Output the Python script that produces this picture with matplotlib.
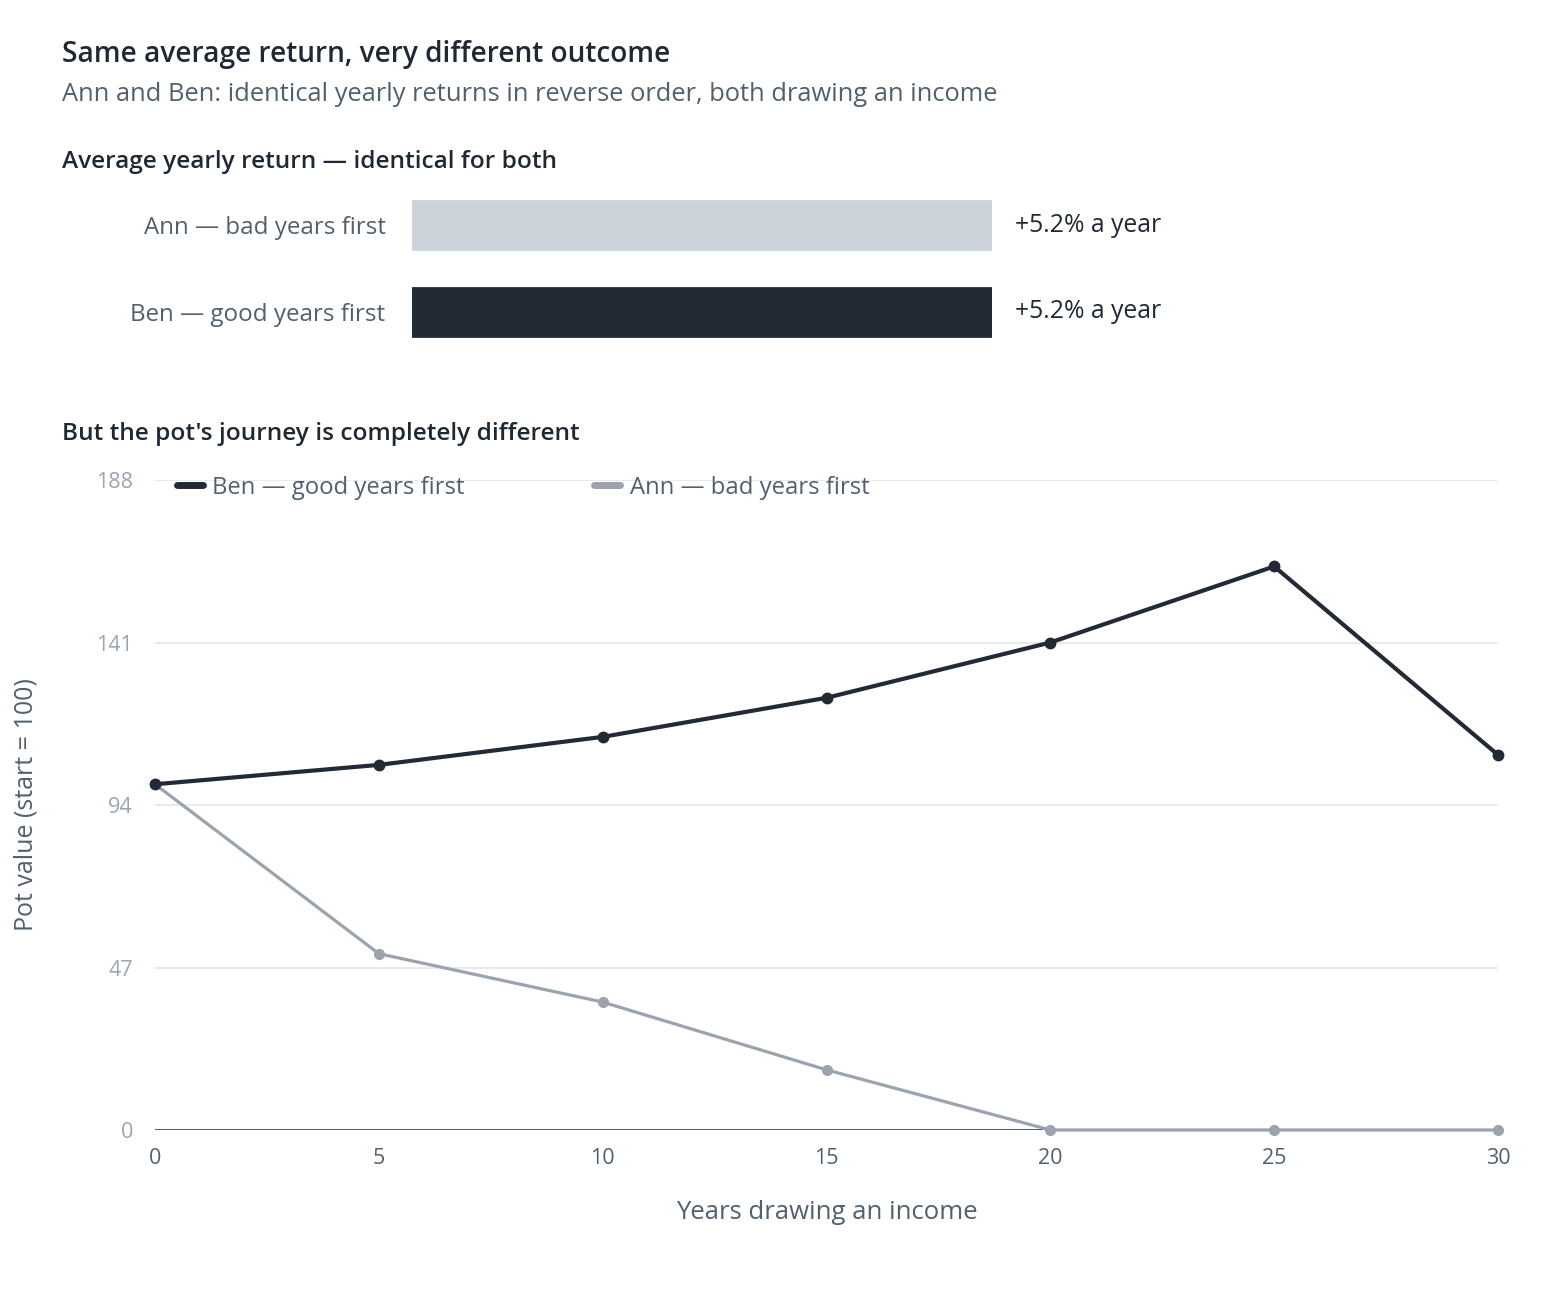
import matplotlib
matplotlib.use("Agg")
import matplotlib.pyplot as plt

plt.rcParams['font.family'] = ['Open Sans', 'DejaVu Sans']

# data
bar_names = ["Ann — bad years first", "Ben — good years first"]
avg_return = [5.2, 5.2]
years = [0, 5, 10, 15, 20, 25, 30]
ben_pot = [100, 105.6, 113.7, 125, 141, 163, 108.5]
ann_pot = [100, 51, 37, 17.4, 0, 0, 0]
y_ticks = [0, 47, 94, 141, 188]

DARK = "#212a35"
LIGHT_BAR = "#cbd2d9"
ANN_LINE = "#9aa3ae"
TITLE_C = "#1f2933"
SUB_C = "#52606d"
TICK_C = "#9aa5b1"
GRID_C = "#e4e7eb"

fig = plt.figure(figsize=(15.6, 13), dpi=100)

fig.text(62/1560, 1-40/1300, "Same average return, very different outcome",
         fontsize=20.2, color=TITLE_C, va='top', fontweight='semibold')
fig.text(62/1560, 1-82/1300, "Ann and Ben: identical yearly returns in reverse order, both drawing an income",
         fontsize=18.4, color=SUB_C, va='top')
fig.text(62/1560, 1-150/1300, "Average yearly return — identical for both",
         fontsize=17.6, color=TITLE_C, va='top', fontweight='semibold')
fig.text(62/1560, 1-422/1300, "But the pot's journey is completely different",
         fontsize=17.6, color=TITLE_C, va='top', fontweight='semibold')

# bar panel
axb = fig.add_axes([412/1560, 1-355.5/1300, 580/1560, 174/1300])
bar_cols = [LIGHT_BAR, DARK]
axb.barh(range(len(bar_names)), avg_return, height=0.56, color=bar_cols,
         edgecolor=bar_cols, linewidth=2, joinstyle='round')
axb.set_xlim(0, 5.2)
axb.set_ylim(1.5, -0.5)
axb.set_yticks(range(len(bar_names)))
axb.set_yticklabels(bar_names, fontsize=17.4, color=SUB_C)
axb.tick_params(axis='y', length=0, pad=19)
axb.set_xticks([])
for s in axb.spines.values():
    s.set_visible(False)
for i, v in enumerate(avg_return):
    axb.annotate(f"+{v}% a year", (v, i), xytext=(23, 0), textcoords='offset pixels',
                 va='center', ha='left', fontsize=17.8, color=TITLE_C, fontweight='medium')

# line panel
ax = fig.add_axes([155/1560, 1-1130/1300, 1343/1560, 650/1300])
ax.plot(years, ben_pot, color=DARK, lw=3, marker='o', ms=7.5,
        label="Ben — good years first", clip_on=False, zorder=4)
ax.plot(years, ann_pot, color=ANN_LINE, lw=2.3, marker='o', ms=7,
        label="Ann — bad years first", clip_on=False, zorder=3)
ax.set_xlim(0, 30)
ax.set_ylim(0, 188)
ax.set_xticks(years)
ax.set_yticks(y_ticks)
ax.grid(axis='y', color=GRID_C, lw=1.2)
ax.set_axisbelow(True)
ax.axhline(0, color=SUB_C, lw=1.5, zorder=2)
for s in ax.spines.values():
    s.set_visible(False)
ax.tick_params(axis='x', length=0, pad=13, labelsize=15.5, labelcolor=SUB_C)
ax.tick_params(axis='y', length=0, pad=16, labelsize=15.5, labelcolor=TICK_C)
ax.set_xlabel("Years drawing an income", fontsize=18.5, color=SUB_C, labelpad=22)
ax.set_ylabel("Pot value (start = 100)", fontsize=18, color=SUB_C, labelpad=41)
leg = ax.legend(loc='upper left', ncol=2, frameon=False, fontsize=17.2,
                labelcolor=SUB_C, handlelength=1.1, handletextpad=0.4,
                columnspacing=5.4, bbox_to_anchor=(0.0, 1.04))
for h in leg.legend_handles:
    h.set_marker('')
    h.set_linewidth(5)
    h.set_solid_capstyle('round')

fig.savefig("out.png", dpi=100, facecolor='white')
